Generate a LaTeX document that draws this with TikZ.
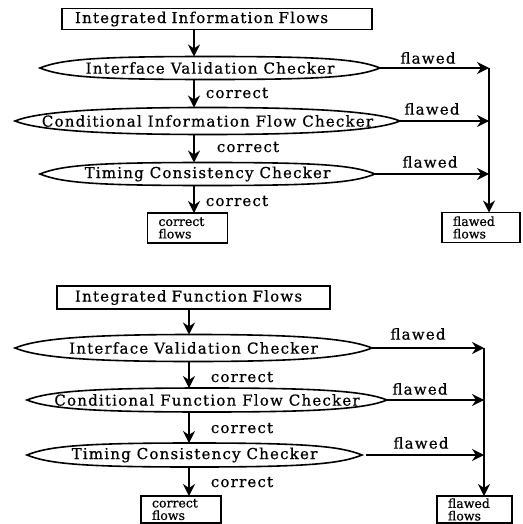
\documentclass[tikz,border=0pt]{standalone}
\usepackage{fontspec}
\setmainfont[LetterSpace=8,FakeBold=0.6]{DejaVu Serif}
\usetikzlibrary{arrows.meta}

% draws a pointed lens outline around a (borderless) node
\newcommand\lensdraw[1]{%
  \draw[lensline] (#1.west)
    .. controls +(22,-9) and +(-110,0) .. (#1.north)
    .. controls +(110,0) and +(-22,-9) .. (#1.east)
    .. controls +(-22,9) and +(110,0) .. (#1.south)
    .. controls +(-110,0) and +(22,9) .. (#1.west) -- cycle;}

\begin{document}
\begin{tikzpicture}[x=1pt,y=-1pt,
  every node/.style={inner sep=0pt, outer sep=0pt},
  lbl/.style={font=\fontsize{15}{17}\selectfont},
  inbox/.style={draw, line width=1.4pt, minimum height=21pt, lbl, align=left},
  lensbox/.style={lbl},
  lensline/.style={line width=1.6pt},
  outbox/.style={draw, line width=1.4pt, text width=58pt, align=left,
    inner xsep=11pt, minimum height=30pt,
    font=\fontsize{12.5}{12.5}\selectfont\addfontfeatures{LetterSpace=0}},
  arr/.style={line width=1.3pt, -{Stealth[length=12pt,width=12pt,inset=4pt]}},
]
\fill[white] (0,0) rectangle (522,524);
\useasboundingbox (0,0) rectangle (522,524);

% ---------- information flows ----------
\coordinate (ta) at (194,0);
\coordinate (tv) at (489,0);
\node[inbox, text width=284pt, inner xsep=13pt] (tin) at (217,19) {Integrated Information Flows};
\node[lensbox, minimum width=340pt, minimum height=23pt] (t1) at (210,68) {Interface Validation Checker};
\node[lensbox, minimum width=385pt, minimum height=27pt] (t2) at (207.5,121) {Conditional Information Flow Checker};
\node[lensbox, minimum width=335pt, minimum height=23pt] (t3) at (207.5,174) {Timing Consistency Checker};
\node[outbox] (tok) at (187.5,228) {correct\\flows};
\node[outbox, text width=56pt] (tbad) at (481,227.5) {flawed\\flows};
\lensdraw{t1}\lensdraw{t2}\lensdraw{t3}

\draw[arr] (tin.south -| ta) -- (t1.north -| ta);
\draw[arr] (t1.south -| ta) -- (t2.north -| ta);
\draw[arr] (t2.south -| ta) -- (t3.north -| ta);
\draw[arr] (t3.south -| ta) -- (tok.north -| ta);
\draw[arr] (t1.east) -- (t1.east -| tv);
\draw[arr] (t2.east) -- (t2.east -| tv);
\draw[arr] (t3.east) -- (t3.east -| tv);
\draw[arr] (t1.east -| tv) -- (tbad.north -| tv);

\node[lbl] (tf1) at (428,58) {flawed};
\node[lbl] (tf2) at (432,109) {flawed};
\node[lbl] (tf3) at (430,162) {flawed};
\node[lbl] (tk1) at (237,93) {correct};
\node[lbl] (tk2) at (248,147) {correct};
\node[lbl] (tk3) at (237,201) {correct};

% ---------- function flows ----------
\coordinate (ba) at (189,0);
\coordinate (bv) at (484,0);
\node[inbox, text width=237pt, inner xsep=18pt, minimum height=23pt] (bin) at (193.5,297.5) {Integrated Function Flows};
\node[lensbox, minimum width=357pt, minimum height=27pt] (b1) at (193.5,348) {Interface Validation Checker};
\node[lensbox, minimum width=360pt, minimum height=24pt] (b2) at (207,400) {Conditional Function Flow Checker};
\node[lensbox, minimum width=335pt, minimum height=24pt] (b3) at (194.5,455) {Timing Consistency Checker};
\node[outbox, minimum height=27pt] (bok) at (181,509.5) {correct\\flows};
\node[outbox, text width=53pt, minimum height=27pt] (bbad) at (474.5,509.5) {flawed\\flows};
\lensdraw{b1}\lensdraw{b2}\lensdraw{b3}

\draw[arr] (bin.south -| ba) -- (b1.north -| ba);
\draw[arr] (b1.south -| ba) -- (b2.north -| ba);
\draw[arr] (b2.south -| ba) -- (b3.north -| ba);
\draw[arr] (b3.south -| ba) -- (bok.north -| ba);
\draw[arr] (b1.east) -- (b1.east -| bv);
\draw[arr] (b2.east) -- (b2.east -| bv);
\draw[arr] (b3.east) ++(4,0) -- (b3.east -| bv);
\draw[arr] (b1.east -| bv) -- (bbad.north -| bv);

\node[lbl] (bf1) at (418,334) {flawed};
\node[lbl] (bf2) at (420,389) {flawed};
\node[lbl] (bf3) at (421,443) {flawed};
\node[lbl] (bk1) at (242,377) {correct};
\node[lbl] (bk2) at (242,428) {correct};
\node[lbl] (bk3) at (242,482) {correct};
\end{tikzpicture}
\end{document}
